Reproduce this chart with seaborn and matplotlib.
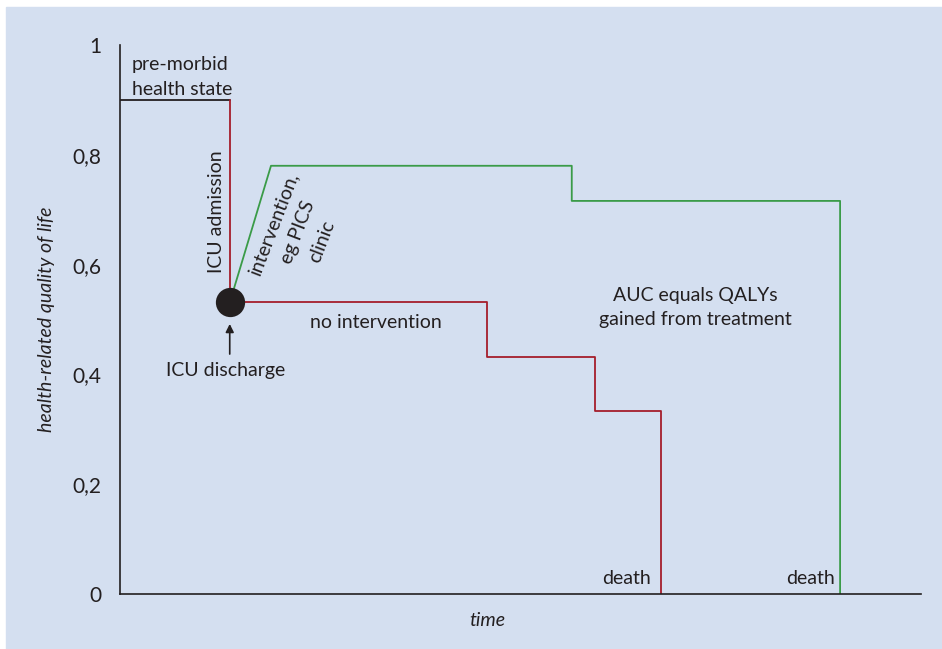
import pandas as pd
import seaborn as sns
import matplotlib.pyplot as plt
from matplotlib.patches import Rectangle

# path vertices (time in arbitrary units 0..100)
premorbid_t = [0, 13.7]
premorbid_q = [0.9, 0.9]

admission_t = [13.7, 13.7]
admission_q = [0.9, 0.531]

interv_t = [13.7, 18.85, 56.4, 56.4, 89.9, 89.9]
interv_q = [0.531, 0.78, 0.78, 0.716, 0.716, 0.0]

nointerv_t = [13.7, 45.8, 45.8, 59.3, 59.3, 67.5, 67.5]
nointerv_q = [0.531, 0.531, 0.432, 0.432, 0.334, 0.334, 0.0]

discharge_t = [13.7]
discharge_q = [0.531]

yticks = [0, 0.2, 0.4, 0.6, 0.8, 1]
yticklabels = ['0', '0,2', '0,4', '0,6', '0,8', '1']

bg = '#d4dff0'
ink = '#231f20'
red = '#a51e2b'
green = '#3a9b48'

sns.set_style('white')
plt.rcParams['font.family'] = ['Lato', 'DejaVu Sans']
plt.rcParams['text.color'] = ink

fig = plt.figure(figsize=(9.42, 6.49), dpi=100)
fig.patches.append(Rectangle((6 / 942, 0), 1, (649 - 7) / 649,
                             transform=fig.transFigure, color=bg, zorder=-10))
ax = fig.add_axes([120 / 942, 55 / 649, 801 / 942, 549 / 649])
ax.set_zorder(1)
ax.set_facecolor('none')

lw = 1.3
def path(t, q, color):
    df = pd.DataFrame({'t': t, 'q': q})
    sns.lineplot(data=df, x='t', y='q', sort=False, estimator=None,
                 color=color, lw=lw, ax=ax)

path(premorbid_t, premorbid_q, ink)
path(admission_t, admission_q, red)
path(interv_t, interv_q, green)
path(nointerv_t, nointerv_q, red)
sns.scatterplot(x=discharge_t, y=discharge_q, s=380, color=ink,
                edgecolor=ink, ax=ax, zorder=5)

fs = 14
ax.set_xlim(0, 100)
ax.set_ylim(0, 1)
ax.set_yticks(yticks)
ax.set_yticklabels(yticklabels)
ax.set_xticks([])
ax.tick_params(axis='y', direction='inout', length=15, width=1,
               color=ink, labelsize=fs + 1, labelcolor=ink, pad=6)
for s in ['top', 'right']:
    ax.spines[s].set_visible(False)
for s in ['left', 'bottom']:
    ax.spines[s].set_color(ink)
    ax.spines[s].set_linewidth(1.2)

ax.set_xlabel('time', style='italic', fontsize=fs, color=ink)
ax.xaxis.set_label_coords((487 - 120) / 801, -26 / 549)
ax.xaxis.label.set_va('center')
ax.set_ylabel('health-related quality of life', style='italic',
              fontsize=fs, color=ink)
ax.yaxis.set_label_coords(-(120 - 47) / 801, 0.5)
ax.yaxis.label.set_va('center')

ax.text(1.5, 0.942, 'pre-morbid\nhealth state', ha='left', va='center',
        fontsize=fs, linespacing=1.55)
ax.text(12.1, 0.696, 'ICU admission', rotation=90, ha='center',
        va='center', fontsize=fs)
ax.text(22.2, 0.659, 'intervention,\neg PICS\nclinic', rotation=69,
        rotation_mode='anchor', ha='center', va='center',
        fontsize=fs, linespacing=1.6)
ax.text(32.0, 0.495, 'no intervention', ha='center', va='center',
        fontsize=fs)
ax.text(13.15, 0.408, 'ICU discharge', ha='center', va='center',
        fontsize=fs)
ax.annotate('', xy=(13.7, 0.497), xytext=(13.7, 0.432),
            arrowprops=dict(arrowstyle='-|>', color=ink, lw=1.2,
                            mutation_scale=12))
ax.text(71.8, 0.522, 'AUC equals QALYs\ngained from treatment',
        ha='center', va='center', fontsize=fs, linespacing=1.45)
ax.text(66.3, 0.012, 'death', ha='right', va='bottom', fontsize=fs)
ax.text(89.3, 0.012, 'death', ha='right', va='bottom', fontsize=fs)

fig.savefig('out.png', dpi=100, facecolor='white')
